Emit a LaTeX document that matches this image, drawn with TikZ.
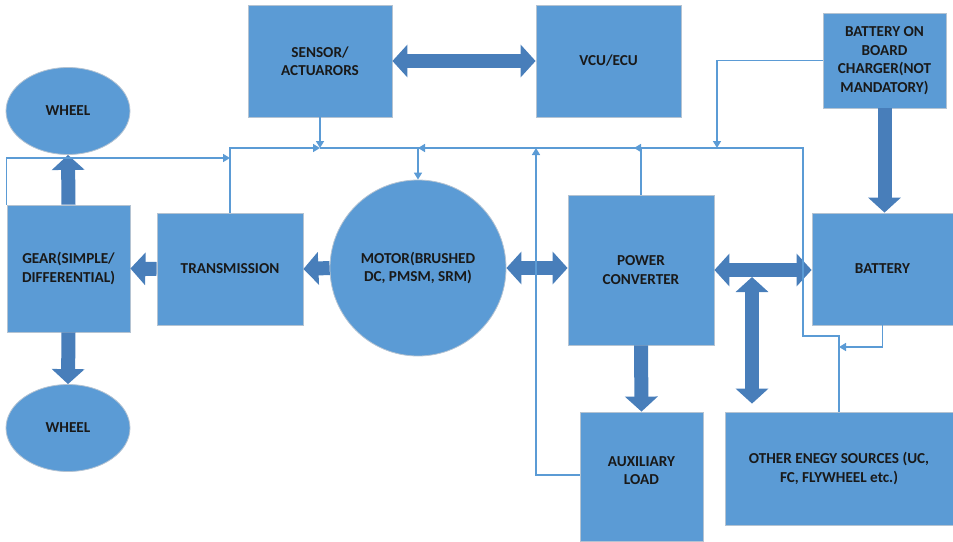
\documentclass[tikz,border=0pt]{standalone}
\usepackage{fontspec}
\setmainfont{Carlito}
\usetikzlibrary{calc,positioning,shapes.geometric,arrows.meta}
\definecolor{boxblue}{RGB}{91,155,213}
\definecolor{boxedge}{RGB}{180,195,210}
\definecolor{fatblue}{RGB}{72,126,186}
\definecolor{lineblue}{RGB}{91,155,213}

\tikzset{
  unit/.style={draw=boxedge, line width=0.8pt, fill=boxblue, align=center, inner sep=2pt,
    font=\fontsize{15.2}{18.5}\selectfont\bfseries, text=black!90},
  wire/.style={draw=lineblue, line width=1.6pt},
  link/.style={wire, -{Triangle[length=7pt,width=8pt]}},
  power/.style={draw=fatblue, line width=14pt, -{Triangle[length=15pt,width=32pt]}},
  power both/.style={draw=fatblue, line width=14pt, {Triangle[length=15pt,width=32pt]}-{Triangle[length=15pt,width=32pt]}}
}

\begin{document}
\begin{tikzpicture}[x=1pt,y=-1pt]
\useasboundingbox (0,0) rectangle (953,541);

\node[unit, minimum width=144pt, minimum height=112pt] (sensor) at (320,61) {SENSOR/\\ACTUARORS};
\node[unit, minimum width=145pt, minimum height=112pt] (vcu) at (608.5,61) {VCU/ECU};
\node[unit, minimum width=123pt, minimum height=95pt] (charger) at (884.5,60.5) {BATTERY ON\\BOARD\\CHARGER(NOT\\MANDATORY)};
\node[unit, ellipse, minimum width=124pt, minimum height=87pt] (wheeltop) at (68,111) {WHEEL};
\node[unit, ellipse, minimum width=124pt, minimum height=87pt] (wheelbot) at (68,428) {WHEEL};
\node[unit, minimum width=123pt, minimum height=127pt] (gear) at (68.5,268.5) {GEAR(SIMPLE/\\DIFFERENTIAL)};
\node[unit, minimum width=146pt, minimum height=112pt] (trans) at (230,269) {TRANSMISSION};
\node[unit, circle, minimum size=176pt] (motor) at (418,268) {MOTOR(BRUSHED\\DC, PMSM, SRM)};
\node[unit, minimum width=146pt, minimum height=150pt] (conv) at (641,270) {POWER\\CONVERTER};
\node[unit, minimum width=141pt, minimum height=112pt] (batt) at (882.5,269) {BATTERY};
\node[unit, minimum width=123pt, minimum height=129pt] (aux) at (641.5,476.5) {AUXILIARY\\LOAD\\[-6.5pt]};
\node[unit, minimum width=228pt, minimum height=113pt] (other) at (839,468.5) {OTHER ENEGY SOURCES (UC,\\FC, FLYWHEEL etc.)};

\coordinate (tee) at (752,277);
\draw[power both] (sensor.east) -- (vcu.west);
\draw[power] (gear.north) -- (wheeltop.south);
\draw[power] (gear.south) -- (wheelbot.north);
\draw[power] (trans.west) -- (gear.east);
\draw[power] (motor.west) -- (trans.east);
\draw[power both] (motor.east) -- (motor.east -| conv.west);
\draw[power both] (conv.east) -- (conv.east -| batt.west);
\draw[power both] (tee) -- ([yshift=8pt]tee |- other.north);
\draw[power] (charger.south) -- (charger.south |- batt.north);
\draw[power] (conv.south) -- (aux.north);

\coordinate (j0) at (230,158);
\coordinate (j1) at (320,148);
\coordinate (j2) at (418,148);
\coordinate (j3) at (536,148);
\coordinate (j6) at (717,148);
\coordinate (j5) at (803,148);
\coordinate (j7) at (839,336);
\coordinate (j8) at (839,347);
\draw[link] (gear.north west) |- (j0);
\draw[link] (trans.north) |- (j1);
\draw[link] (sensor.south) -- (j1);
\draw[wire] (j1) -- (j5) |- (j7) -- (other.north);
\draw[link] ([xshift=9pt]j2) -- (j2);
\draw[link] (j2) -- (motor.north);
\draw[link] ([yshift=1.5pt]aux.west) -| (j3);
\draw[link] (conv.north) -- (conv.north |- j1) -- ++(-7,0);
\draw[link] (charger.west) -| (j6);
\draw[link] (batt.south) |- (j8);
\end{tikzpicture}
\end{document}
